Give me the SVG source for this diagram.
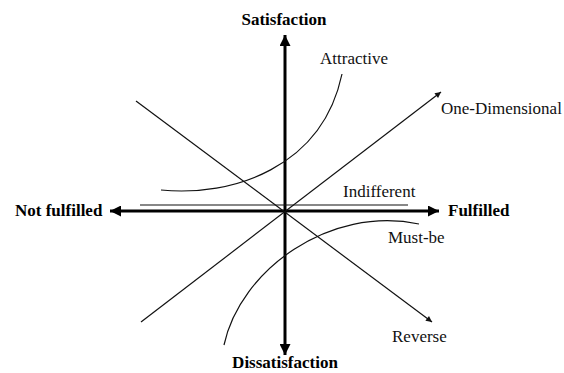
<svg xmlns="http://www.w3.org/2000/svg" width="564" height="373" viewBox="0 0 564 373">
<defs>
<style>
.axis{stroke:#000;stroke-width:3;fill:none}
.ln{stroke:#111;stroke-width:1.2;fill:none}
.bold{font-family:"Liberation Serif","Times New Roman",serif;font-weight:bold;font-size:17px;fill:#000}
.lbl{font-family:"Liberation Serif","Times New Roman",serif;font-size:17px;fill:#111}
</style>
<marker id="big" viewBox="0 0 10 10" refX="10" refY="5" markerWidth="11" markerHeight="11" markerUnits="userSpaceOnUse" orient="auto">
<path d="M0,0 L10,5 L0,10 Z" fill="#000"/>
</marker>
<marker id="small" viewBox="0 0 10 10" refX="10" refY="5" markerWidth="7" markerHeight="6" markerUnits="userSpaceOnUse" orient="auto">
<path d="M0,0 L10,5 L0,10 Z" fill="#111"/>
</marker>
</defs>
<rect width="564" height="373" fill="#fff"/>
<g id="connectors">
<line class="axis" x1="285" y1="211" x2="285" y2="35" marker-end="url(#big)"/>
<line class="axis" x1="285" y1="211" x2="285" y2="355" marker-end="url(#big)"/>
<line class="axis" x1="285" y1="211" x2="110" y2="211" marker-end="url(#big)"/>
<line class="axis" x1="285" y1="211" x2="439" y2="211" marker-end="url(#big)"/>
</g>
<g id="attractive">
<path class="ln" d="M161,190 C232,197 322,168 342,74"/>
<text class="lbl" x="320" y="64">Attractive</text>
</g>
<g id="one-dimensional">
<line class="ln" x1="141" y1="322" x2="441" y2="92" marker-end="url(#small)"/>
<text class="lbl" x="441" y="114">One-Dimensional</text>
</g>
<g id="indifferent">
<line class="ln" x1="140" y1="205" x2="408" y2="205"/>
<text class="lbl" x="343" y="197">Indifferent</text>
</g>
<g id="must-be">
<path class="ln" d="M224,345 C240,270 330,205 419,224"/>
<text class="lbl" x="388" y="243">Must-be</text>
</g>
<g id="reverse">
<line class="ln" x1="136" y1="101" x2="432" y2="322" marker-end="url(#small)"/>
<text class="lbl" x="392" y="342">Reverse</text>
</g>
<g id="satisfaction"><text class="bold" x="284" y="25" text-anchor="middle">Satisfaction</text></g>
<g id="dissatisfaction"><text class="bold" x="285" y="368" text-anchor="middle">Dissatisfaction</text></g>
<g id="not-fulfilled"><text class="bold" x="15" y="216">Not fulfilled</text></g>
<g id="fulfilled"><text class="bold" x="448" y="216">Fulfilled</text></g>
</svg>
